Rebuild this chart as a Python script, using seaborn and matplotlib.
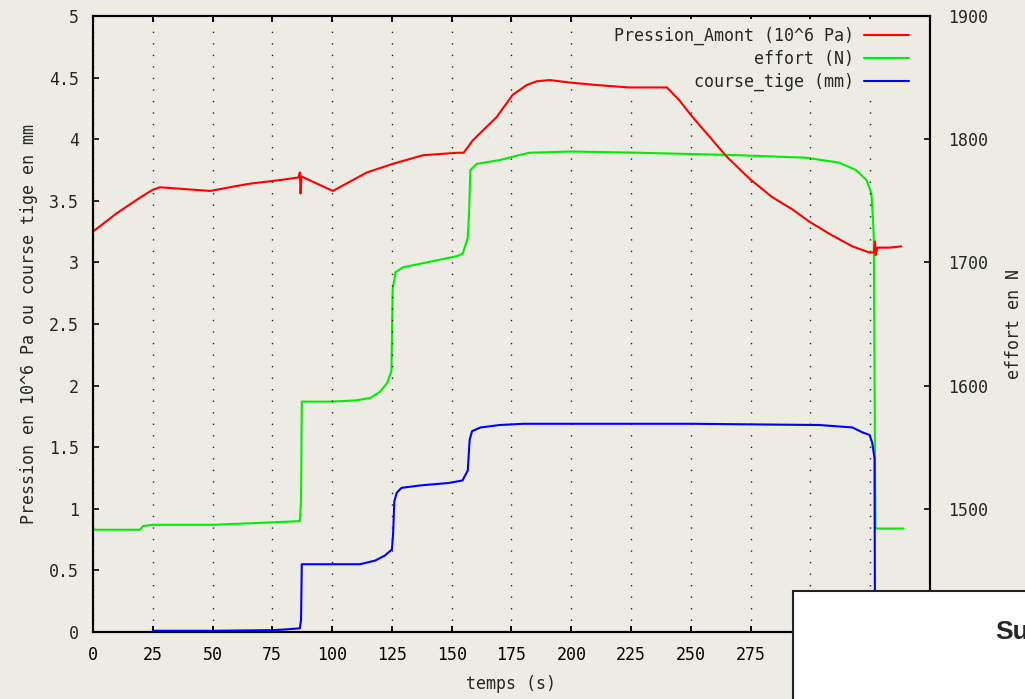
import matplotlib
matplotlib.use("Agg")
import matplotlib.pyplot as plt
from matplotlib.patches import Rectangle
import seaborn as sns
import pandas as pd

# ---------------- data ----------------
t_pression = [0, 10, 20, 25, 28, 35, 49, 60, 66, 79, 86, 86.5, 86.8, 87.2, 88,
              100.3, 114.5, 125.4, 138, 152.5, 155, 158.8, 163, 168.8, 175.5,
              181.4, 185.5, 191, 199.3, 210.5, 224, 240, 245, 250.7, 256.5,
              264.9, 274.5, 284, 292.5, 299.6, 309, 317.6, 324.7, 326.5, 327,
              327.3, 328, 333, 338]
v_pression = [3.25, 3.40, 3.53, 3.59, 3.61, 3.60, 3.58, 3.62, 3.64, 3.67, 3.69,
              3.73, 3.56, 3.70, 3.69, 3.58, 3.73, 3.80, 3.87, 3.89, 3.89, 3.99,
              4.07, 4.18, 4.36, 4.44, 4.47, 4.48, 4.46, 4.44, 4.42, 4.42, 4.32,
              4.18, 4.05, 3.86, 3.68, 3.53, 3.43, 3.33, 3.22, 3.13, 3.08, 3.08,
              3.17, 3.06, 3.12, 3.12, 3.13]

t_effort = [0, 19.6, 21, 25, 50, 75, 86.5, 87.0, 87.3, 100, 110, 116, 120, 123,
            124.8, 125.3, 126.5, 129.6, 139.6, 152, 154.6, 156.7, 157.3, 157.8,
            160.5, 170, 178, 182.6, 200, 228.6, 270, 298, 312, 319, 323.4,
            325.5, 326, 326.5, 327, 327.2, 339]
v_effort = [1483, 1483, 1486, 1487, 1487, 1489, 1490, 1507, 1587, 1587, 1588,
            1590, 1595, 1602, 1612, 1678, 1692, 1696, 1700, 1705, 1707, 1720,
            1742, 1775, 1780, 1783, 1787, 1789, 1790, 1789, 1787, 1785, 1781,
            1775, 1767, 1756, 1740, 1720, 1541, 1484, 1484]

t_course = [25, 50, 75, 80, 86.5, 87.0, 87.3, 100, 111.6, 118, 122, 125, 125.5,
            126, 127, 129, 137, 149, 154.5, 156.7, 157.5, 158.5, 162, 170, 180,
            200, 250, 303.8, 317.6, 321.8, 324.7, 325.8, 326.8, 327]
v_course = [0.01, 0.01, 0.015, 0.02, 0.03, 0.10, 0.55, 0.55, 0.55, 0.58, 0.62,
            0.67, 0.80, 1.06, 1.13, 1.17, 1.19, 1.21, 1.23, 1.31, 1.56, 1.63,
            1.66, 1.68, 1.69, 1.69, 1.69, 1.68, 1.66, 1.62, 1.60, 1.54, 1.41, 0.0]

x_ticks = list(range(0, 351, 25))
y_ticks = [0, 0.5, 1, 1.5, 2, 2.5, 3, 3.5, 4, 4.5, 5]
y_ticklabels = ["0", "0.5", "1", "1.5", "2", "2.5", "3", "3.5", "4", "4.5", "5"]
y2_ticks = [1400, 1500, 1600, 1700, 1800, 1900]

labels = ["Pression_Amont (10^6 Pa)", "effort (N)", "course_tige (mm)"]
colors = ["#ff0000", "#00ee00", "#0000ff"]

# ---------------- style ----------------
BG = "#ecebe4"
sns.set_style("ticks", {"axes.facecolor": BG, "figure.facecolor": BG})
plt.rcParams["font.family"] = ["DejaVu Sans Mono", "DejaVu Sans"]
plt.rcParams["font.size"] = 12

fig = plt.figure(figsize=(10.25, 6.99), dpi=100, facecolor=BG)
ax = fig.add_axes([93 / 1025, 1 - 632 / 699, (930 - 93) / 1025, (632 - 16) / 699])
ax.set_facecolor(BG)
ax2 = ax.twinx()

df_p = pd.DataFrame({"t": t_pression, "v": v_pression})
df_e = pd.DataFrame({"t": t_effort, "v": v_effort})
df_c = pd.DataFrame({"t": t_course, "v": v_course})

lw = 1.5
sns.lineplot(data=df_p, x="t", y="v", ax=ax, color=colors[0], lw=lw,
             estimator=None, sort=False, label=labels[0])
sns.lineplot(data=df_c, x="t", y="v", ax=ax, color=colors[2], lw=lw,
             estimator=None, sort=False, label=labels[2])
sns.lineplot(data=df_e, x="t", y="v", ax=ax2, color=colors[1], lw=lw,
             estimator=None, sort=False, label=labels[1])

# put left axis on top so red/blue overlay green
ax.set_zorder(ax2.get_zorder() + 1)
ax.patch.set_visible(False)
ax2.patch.set_facecolor(BG)
ax2.patch.set_visible(True)

for a in (ax, ax2):
    lg = a.get_legend()
    if lg is not None:
        lg.remove()

ax.set_xlim(0, 350)
ax.set_ylim(0, 5)
ax2.set_ylim(1400, 1900)
ax.set_xticks(x_ticks)
ax.set_xticklabels([str(x) for x in x_ticks])
ax.set_yticks(y_ticks)
ax.set_yticklabels(y_ticklabels)
ax2.set_yticks(y2_ticks)
ax2.set_yticklabels([str(v) for v in y2_ticks])

ax.tick_params(axis="x", direction="in", length=4.5, width=1.4, top=True,
               bottom=True, pad=10, labelsize=12, colors="black")
ax.tick_params(axis="y", direction="in", length=4.5, width=1.4, left=True,
               right=False, pad=10, labelsize=12)
ax2.tick_params(axis="y", direction="in", length=4.5, width=1.4, right=True,
                left=False, pad=13, labelsize=12)
ax2.tick_params(axis="x", top=False, bottom=False)

for a in (ax, ax2):
    for s in a.spines.values():
        s.set_visible(True)
        s.set_linewidth(1.5)
        s.set_color("black")

ax.set_axisbelow(True)
ax.xaxis.grid(True, linestyle=(0, (1, 7.3)), color="#222222", linewidth=1.0)
ax.yaxis.grid(False)
ax2.grid(False)

ax.set_xlabel("temps (s)", fontsize=12, labelpad=8)
ax.set_ylabel("Pression en 10^6 Pa ou course tige en mm", fontsize=12, labelpad=8)
ax2.set_ylabel("effort en N", fontsize=12, labelpad=12)

# combined legend with opaque background (hides grid dots, curves drawn over it)
h1, l1 = ax.get_legend_handles_labels()
h2, l2 = ax2.get_legend_handles_labels()
hd = dict(zip(l1 + l2, h1 + h2))
leg = ax.legend([hd[l] for l in labels], labels, loc="upper right",
                bbox_to_anchor=(916 / 1025, 1 - 19 / 699),
                bbox_transform=fig.transFigure, frameon=True,
                markerfirst=False, handlelength=2.7, handletextpad=0.6,
                labelspacing=0.3, borderpad=0.45, borderaxespad=0, fontsize=12,
                fancybox=False)
leg.get_frame().set_facecolor(BG)
leg.get_frame().set_edgecolor("none")
leg.get_frame().set_alpha(1.0)
leg.set_zorder(1)

# overlay box at bottom right
fig.add_artist(Rectangle((793 / 1025, -0.01), 0.3, (699 - 591) / 699 + 0.01,
                         transform=fig.transFigure, facecolor="white",
                         edgecolor="#222222", linewidth=1.5, zorder=10))
fig.text(995 / 1025, 1 - 632 / 699, "Su", fontsize=19, fontweight="bold",
         family="Liberation Sans", ha="left", va="center", zorder=11)

fig.savefig("out.png", dpi=100, facecolor=BG)
